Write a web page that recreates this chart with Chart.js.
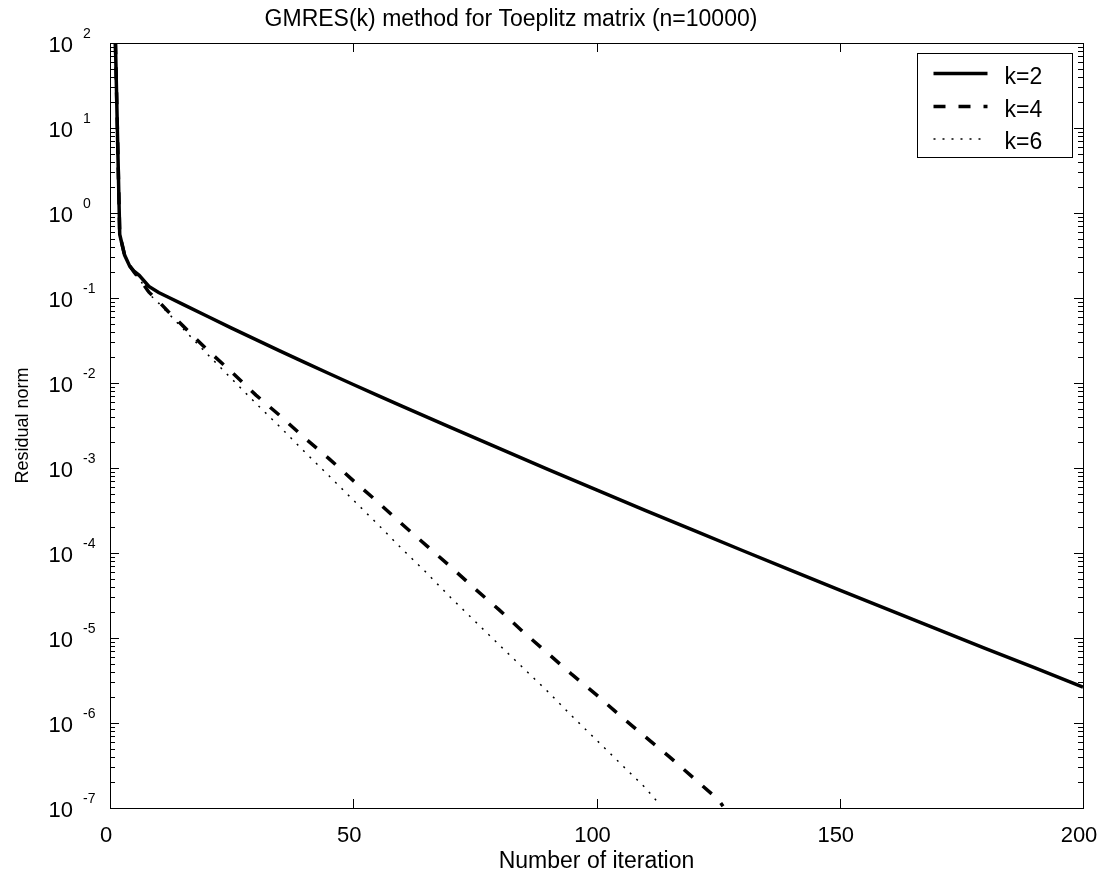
<!DOCTYPE html>
<html><head><meta charset="utf-8">
<script src="https://cdn.jsdelivr.net/npm/chart.js@4.4.1/dist/chart.umd.min.js"></script>
<style>html,body{margin:0;padding:0;background:#fff}#wrap{width:1100px;height:886px}</style>
</head><body><div id="wrap"><canvas id="c" width="1100" height="886"></canvas></div>
<script>
const titleText = 'GMRES(k) method for Toeplitz matrix (n=10000)';
const xLabel = 'Number of iteration';
const yLabel = 'Residual norm';
const xTicks = [0, 50, 100, 150, 200];
const yTicks = [1e-7, 1e-6, 1e-5, 1e-4, 1e-3, 1e-2, 1e-1, 1e0, 1e1, 1e2];
const seriesNames = ['k=2', 'k=4', 'k=6'];

const iterK2 = [1,2,3,4,5,6,8,10,12,15,20,25,30,35,40,45,50,55,60,70,80,90,100,110,120,130,140,150,160,170,180,190,200];
const resK2 = [200,0.56,0.32,0.24,0.205,0.185,0.137,0.116,0.102,0.0841,0.061,0.0442,0.0324,0.0237,0.0175,0.01294,0.0096,0.00714,0.00535,0.00301,0.0017,9.66e-4,5.53e-4,3.18e-4,1.84e-4,1.07e-4,6.24e-5,3.66e-5,2.15e-5,1.27e-5,7.52e-6,4.47e-6,2.65e-6];

const iterK4 = [1,2,3,4,5,6,8,10,12,15,20,25,30,35,40,45,50,55,60,65,70,75,80,85,90,95,100,105,110,115,120,125,126];
const resK4 = [200,0.56,0.32,0.24,0.2,0.17,0.117,0.091,0.069,0.047,0.0245,0.0135,0.0072,0.0041,0.00226,0.00129,7.1e-4,4.0e-4,2.19e-4,1.23e-4,6.9e-5,3.8e-5,2.14e-5,1.17e-5,6.6e-6,3.7e-6,2.14e-6,1.2e-6,6.9e-7,4.0e-7,2.24e-7,1.26e-7,1.05e-7];

const iterK6 = [1,2,3,4,5,6,8,10,12,15,20,25,30,35,40,45,50,55,60,65,70,75,80,85,90,95,100,105,110,113];
const resK6 = [200,0.56,0.32,0.24,0.2,0.17,0.112,0.087,0.066,0.0437,0.0219,0.0112,0.00575,0.00302,0.00155,8.1e-4,4.2e-4,2.19e-4,1.12e-4,5.9e-5,3.0e-5,1.58e-5,8.3e-6,4.4e-6,2.34e-6,1.2e-6,6.3e-7,3.3e-7,1.74e-7,1.1e-7];

const FONT = '"Liberation Sans", Arial, Helvetica, sans-serif';
Chart.defaults.font.family = FONT;
Chart.defaults.color = '#000';

function pts(xs, ys) { return xs.map((v, i) => ({x: v, y: ys[i]})); }

const decorations = {
  id: 'decorations',
  afterDatasetsDraw(chart) {
    const {ctx, chartArea: a, scales: {x, y}} = chart;
    ctx.save();
    ctx.strokeStyle = '#000';
    ctx.lineWidth = 1;
    const seg = (x1, y1, x2, y2) => { ctx.beginPath(); ctx.moveTo(x1, y1); ctx.lineTo(x2, y2); ctx.stroke(); };
    // frame
    ctx.strokeRect(Math.round(a.left) + 0.5, Math.round(a.top) + 0.5, Math.round(a.right - a.left), Math.round(a.bottom - a.top));
    // x ticks (inward, top and bottom)
    xTicks.forEach(v => {
      const px = Math.round(x.getPixelForValue(v)) + 0.5;
      seg(px, a.bottom, px, a.bottom - 9);
      seg(px, a.top, px, a.top + 9);
    });
    // y ticks major + minor (inward, left and right)
    yTicks.forEach((v, i) => {
      const py = Math.round(y.getPixelForValue(v)) + 0.5;
      seg(a.left, py, a.left + 9, py);
      seg(a.right, py, a.right - 9, py);
      if (i < yTicks.length - 1) {
        for (let m = 2; m <= 9; m++) {
          const pm = Math.round(y.getPixelForValue(v * m)) + 0.5;
          seg(a.left, pm, a.left + 5, pm);
          seg(a.right, pm, a.right - 5, pm);
        }
      }
    });
    // exponents of y tick labels
    ctx.fillStyle = '#000';
    ctx.font = '14px ' + FONT;
    ctx.textAlign = 'left';
    ctx.textBaseline = 'alphabetic';
    yTicks.forEach(v => {
      const e = Math.round(Math.log10(v));
      ctx.fillText(String(e), a.left - 27, y.getPixelForValue(v) - 5);
    });
    // legend
    const bx = Math.round(a.right) - 166 + 0.5, by = Math.round(a.top) + 10 + 0.5, bw = 155, bh = 104;
    ctx.fillStyle = '#fff';
    ctx.fillRect(bx, by, bw, bh);
    ctx.strokeRect(bx, by, bw, bh);
    const rows = [20, 53, 85.5];
    chart.data.datasets.forEach((ds, i) => {
      const ly = by + rows[i];
      ctx.save();
      ctx.strokeStyle = ds.borderColor;
      ctx.lineWidth = ds.borderWidth;
      ctx.setLineDash(ds.borderDash || []);
      seg(bx + 16, ly, bx + 70, ly);
      ctx.restore();
      ctx.fillStyle = '#000';
      ctx.font = '23px ' + FONT;
      ctx.textAlign = 'left';
      ctx.textBaseline = 'middle';
      ctx.fillText(ds.label, bx + 87, ly + 4);
    });
    // title
    ctx.font = '23px ' + FONT;
    ctx.textAlign = 'center';
    ctx.textBaseline = 'middle';
    ctx.fillStyle = '#000';
    ctx.fillText(titleText, 511, 20);
    ctx.restore();
  }
};

new Chart(document.getElementById('c'), {
  type: 'line',
  data: {
    datasets: [
      {label: seriesNames[0], data: pts(iterK2, resK2), borderColor: '#000', borderWidth: 3.5, borderDash: [], pointRadius: 0, tension: 0, fill: false},
      {label: seriesNames[1], data: pts(iterK4, resK4), borderColor: '#000', borderWidth: 3.5, borderDash: [12, 13], pointRadius: 0, tension: 0, fill: false},
      {label: seriesNames[2], data: pts(iterK6, resK6), borderColor: '#000', borderWidth: 1.5, borderDash: [2, 7], pointRadius: 0, tension: 0, fill: false}
    ]
  },
  options: {
    responsive: false,
    animation: false,
    devicePixelRatio: 1,
    layout: {padding: {left: 0, right: 17, top: 43, bottom: 0}},
    plugins: {legend: {display: false}, title: {display: false}, tooltip: {enabled: false}},
    scales: {
      x: {
        type: 'linear', min: 0, max: 200,
        afterBuildTicks: s => { s.ticks = xTicks.map(v => ({value: v})); },
        afterFit: s => { s.height = 78; s.paddingLeft = 0; s.paddingRight = 0; s.paddingTop = 0; s.paddingBottom = 0; },
        grid: {display: false, drawTicks: false},
        border: {display: false},
        ticks: {font: {size: 22}, padding: 15, labelOffset: -4, maxRotation: 0, autoSkip: false, color: '#000'},
        title: {display: true, text: xLabel, font: {size: 23}, padding: {top: 0, bottom: 11}, color: '#000'}
      },
      y: {
        type: 'logarithmic', min: 1e-7, max: 1e2,
        afterBuildTicks: s => { s.ticks = yTicks.map(v => ({value: v})); },
        afterFit: s => { s.width = 110; s.paddingLeft = 0; s.paddingRight = 0; s.paddingTop = 0; s.paddingBottom = 0; },
        grid: {display: false, drawTicks: false},
        border: {display: false},
        ticks: {font: {size: 22}, padding: 37, labelOffset: 3, autoSkip: false, color: '#000', callback: () => '10'},
        title: {display: true, text: yLabel, font: {size: 18}, padding: {top: 12, bottom: 0}, color: '#000'}
      }
    }
  },
  plugins: [decorations]
});
</script>
</body></html>
